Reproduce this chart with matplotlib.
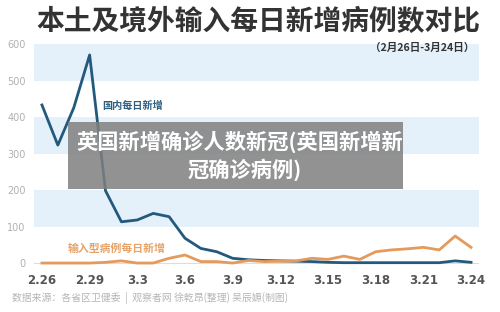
import matplotlib
matplotlib.use("Agg")
import matplotlib.pyplot as plt
from matplotlib.patches import Rectangle

plt.rcParams['font.family'] = ['Noto Sans CJK SC', 'DejaVu Sans']

dates = ["2.26", "2.27", "2.28", "2.29", "3.1", "3.2", "3.3", "3.4", "3.5", "3.6",
         "3.7", "3.8", "3.9", "3.10", "3.11", "3.12", "3.13", "3.14", "3.15", "3.16",
         "3.17", "3.18", "3.19", "3.20", "3.21", "3.22", "3.23", "3.24"]
domestic = [433, 323, 425, 570, 198, 113, 118, 136, 127, 68,
            40, 31, 13, 9, 7, 6, 5, 4, 2, 1,
            1, 1, 1, 1, 1, 1, 6, 2]
imported = [0, 0, 0, 0, 2, 6, 0, 0, 13, 22,
            4, 4, 0, 7, 4, 5, 6, 13, 10, 19,
            10, 31, 36, 39, 43, 36, 74, 43]
tick_labels = ["2.26", "2.29", "3.3", "3.6", "3.9", "3.12", "3.15", "3.18", "3.21", "3.24"]
yticks = [0, 100, 200, 300, 400, 500, 600]
bands = [(100, 200), (300, 400), (500, 600)]

title = "本土及境外输入每日新增病例数对比"
subtitle = "（2月26日-3月24日）"
source = "数据来源：各省区卫健委  |  观察者网 徐乾昂(整理) 吴辰嫄(制图)"
label_dom = "国内每日新增"
label_imp = "输入型病例每日新增"
overlay_l1 = "英国新增确诊人数新冠(英国新增新"
overlay_l2 = "冠确诊病例)"

W, H = 500, 312
fig = plt.figure(figsize=(W / 100, H / 100), dpi=100)
fig.patch.set_facecolor("white")

ax = fig.add_axes([34 / W, 1 - 266.7 / H, 445 / W, (266.7 - 44) / H])
ax.set_xlim(-0.5, len(dates) - 0.5)
ax.set_ylim(-10, 600)
for lo, hi in bands:
    ax.axhspan(lo, hi, color="#e5f1fa", lw=0, zorder=0)
ax.axhline(0, color="#dddddd", lw=0.8, zorder=1)

x = list(range(len(dates)))
ax.plot(x, domestic, color="#22597c", lw=2.0, zorder=3, solid_joinstyle="round")
ax.plot(x, imported, color="#e39a5c", lw=2.0, zorder=4, solid_joinstyle="round")

ax.set_xticks([dates.index(t) for t in tick_labels])
ax.set_xticklabels(tick_labels, fontsize=8.5, color="#555555", fontweight="bold",
                   family=["DejaVu Sans"])
ax.set_yticks(yticks)
ax.set_yticklabels([str(v) for v in yticks], fontsize=7, color="#b0b0b0",
                   family=["DejaVu Sans"])
ax.tick_params(axis="both", length=0)
ax.tick_params(axis="x", pad=5)
ax.tick_params(axis="y", pad=6)
for s in ax.spines.values():
    s.set_visible(False)
ax.set_facecolor("none")

ax.text(3.8, 430, label_dom, fontsize=7.3, color="#2c5f80", fontweight="bold",
        va="center", ha="left")
ax.text(1.6, 40, label_imp, fontsize=7.8, color="#e6a267", fontweight="bold",
        va="center", ha="left")

fig.text(258 / W, 1 - 22 / H, title, fontsize=20, fontweight="bold", color="#333333",
         ha="center", va="center")
fig.text(474 / W, 1 - 48 / H, subtitle, fontsize=7.6, fontweight="bold", color="#333333",
         ha="right", va="center")
fig.text(12 / W, 1 - 298 / H, source, fontsize=7.1, color="#b5b5b5",
         ha="left", va="center")

fig.patches.append(Rectangle((68 / W, 1 - 188.5 / H), (403 - 68) / W, (188.5 - 122) / H,
                             transform=fig.transFigure, facecolor="#7f7f7f", alpha=0.85,
                             edgecolor="none", zorder=5))
fig.text(240 / W, 1 - 141.5 / H, overlay_l1, fontsize=15.3, fontweight="bold", color="white",
         ha="center", va="center", zorder=6)
fig.text(245 / W, 1 - 170 / H, overlay_l2, fontsize=15.3, fontweight="bold", color="white",
         ha="center", va="center", zorder=6)

fig.savefig("out.png", dpi=100, facecolor="white")
